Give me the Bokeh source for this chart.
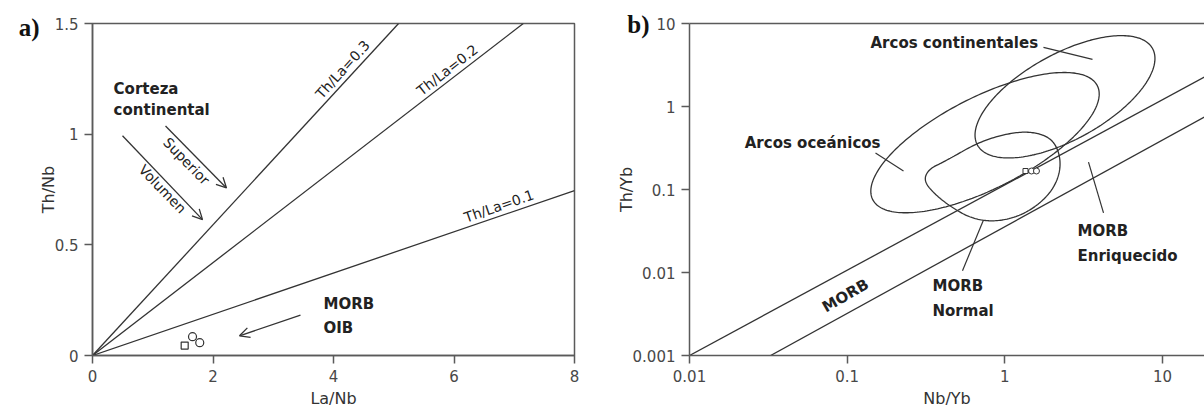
import numpy as np
from bokeh.plotting import figure
from bokeh.models import (FixedTicker, CustomJSTickFormatter, Arrow, OpenHead,
                          LogAxis, LinearAxis, Range1d)
from bokeh.layouts import row
from bokeh.embed import file_html
from bokeh.resources import INLINE
from bokeh.core.properties import value

# ---------------- Panel a data (La/Nb vs Th/Nb) ----------------
a_xticks = [0, 2, 4, 6, 8]
a_yticks = [0, 0.5, 1, 1.5]
th_la_labels = ["Th/La=0.3", "Th/La=0.2", "Th/La=0.1"]
th_la_end_lanb = [5.08, 7.15, 8.0]
th_la_end_thnb = [1.5, 1.5, 0.745]
sample_sq_lanb = [1.53]
sample_sq_thnb = [0.045]
sample_ci_lanb = [1.66, 1.78]
sample_ci_thnb = [0.085, 0.058]

# ---------------- Panel b data (Nb/Yb vs Th/Yb) ----------------
b_xticks = [0.01, 0.1, 1, 10]
b_yticks = [0.001, 0.01, 0.1, 1, 10]
morb_upper_nbyb = [0.01, 18.44]
morb_upper_thyb = [0.001, 2.27]
morb_lower_nbyb = [0.0327, 18.44]
morb_lower_thyb = [0.001, 0.75]
# field ellipses: centre (Nb/Yb, Th/Yb) and conjugate semi-axes in log10 decades
ocean_centre = [0.748, 0.367]
ocean_axis1 = [0.712, 0.687]
ocean_axis2 = [-0.132, 0.492]
cont_centre = [2.405, 1.309]
cont_axis1 = [0.555, 0.582]
cont_axis2 = [-0.132, 0.452]
# N-MORB field outline
nmorb_nbyb = [0.305, 0.328, 0.420, 0.700, 1.134, 1.563, 2.004, 2.252, 2.219, 1.890,
              1.351, 0.898, 0.623, 0.465, 0.363]
nmorb_thyb = [0.1265, 0.176, 0.220, 0.3825, 0.4905, 0.4905, 0.404, 0.2526, 0.1453,
              0.0835, 0.0508, 0.0407, 0.0442, 0.060, 0.0859]
b_sq_nbyb = [1.351]
b_sq_thyb = [0.167]
b_ci_nbyb = [1.475, 1.586]
b_ci_thyb = [0.167, 0.167]

INK = "#333333"
AXC = "#5a5a5a"
TXT = "#484848"
FONT = "DejaVu Sans"
fmt = CustomJSTickFormatter(code="return tick.toString();")


def style_axes(p, xticks, yticks):
    for ax, ticks in ((p.xaxis, xticks), (p.yaxis, yticks)):
        ax.ticker = FixedTicker(ticks=ticks, minor_ticks=[])
        ax.formatter = fmt
        ax.major_tick_out = 8
        ax.major_tick_in = 0
        ax.minor_tick_out = 0
        ax.minor_tick_in = 0
        ax.axis_line_color = AXC
        ax.axis_line_width = 1.5
        ax.major_tick_line_color = AXC
        ax.major_tick_line_width = 1.5
        ax.major_label_text_font = FONT
        ax.major_label_text_font_size = "15px"
        ax.major_label_text_color = TXT
        ax.major_label_standoff = 6
        ax.axis_label_text_font = FONT
        ax.axis_label_text_font_size = "16px"
        ax.axis_label_text_font_style = "normal"
        ax.axis_label_text_color = "#333333"
    p.xaxis.axis_label_standoff = 4
    p.yaxis.axis_label_standoff = -6
    p.grid.visible = False


def panel_tag(p, axis_cls, tick, tag, standoff):
    ax = axis_cls(ticker=FixedTicker(ticks=[tick], minor_ticks=[]),
                  formatter=CustomJSTickFormatter(code="return '%s';" % tag),
                  axis_line_color=None, major_tick_line_color=None, minor_tick_line_color=None,
                  major_tick_out=0, major_tick_in=0, minor_tick_out=0, minor_tick_in=0,
                  major_label_standoff=standoff, major_label_text_font="Liberation Serif",
                  major_label_text_font_style="bold", major_label_text_font_size="25px",
                  major_label_text_color="#111111")
    p.add_layout(ax, "left")


def txt(p, x, y, s, size="14px", bold=False, angle=0.0, align="left", baseline="middle"):
    p.text(x=[x], y=[y], text=[s], text_font=value(FONT), text_font_size=value(size),
           text_font_style="bold" if bold else "normal", text_color="#222222",
           angle=np.deg2rad(angle), text_align=align, text_baseline=baseline)


# ======================= Panel a =======================
pa = figure(width=600, height=410, x_range=Range1d(0, 8), y_range=Range1d(0, 1.5),
            output_backend="svg", toolbar_location=None,
            min_border_left=92, min_border_right=26, min_border_top=19, min_border_bottom=54,
            x_axis_label="La/Nb", y_axis_label="Th/Nb")
pa.outline_line_color = AXC
pa.outline_line_width = 1.5
style_axes(pa, a_xticks, a_yticks)
panel_tag(pa, LinearAxis, 1.483, "a)", -4)

for ex, ey in zip(th_la_end_lanb, th_la_end_thnb):
    pa.line([0, ex], [0, ey], line_color=INK, line_width=1.3)

txt(pa, 4.25, 1.268, th_la_labels[0], angle=47.7, align="center", baseline="bottom")
txt(pa, 5.97, 1.262, th_la_labels[1], angle=38.0, align="center", baseline="bottom")
txt(pa, 6.79, 0.641, th_la_labels[2], angle=19.1, align="center", baseline="bottom")

txt(pa, 0.35, 1.206, "Corteza", size="15px", bold=True)
txt(pa, 0.35, 1.108, "continental", size="15px", bold=True)
txt(pa, 1.56, 0.878, "Superior", angle=-46, align="center")
txt(pa, 1.162, 0.752, "Volumen", angle=-46, align="center")
txt(pa, 3.834, 0.232, "MORB", size="15px", bold=True)
txt(pa, 3.834, 0.126, "OIB", size="15px", bold=True)

for xs, ys, xe, ye in ((1.212, 1.037, 2.224, 0.757), (0.498, 0.993, 1.826, 0.614),
                       (3.452, 0.1825, 2.44, 0.089)):
    pa.add_layout(Arrow(end=OpenHead(size=10, line_color=INK, line_width=1.3),
                        x_start=xs, y_start=ys, x_end=xe, y_end=ye,
                        line_color=INK, line_width=1.3))

pa.scatter(sample_sq_lanb, sample_sq_thnb, marker="square", size=7, line_color=INK,
           fill_color="white", line_width=1.2)
pa.scatter(sample_ci_lanb, sample_ci_thnb, marker="circle", size=8, line_color=INK,
           fill_color="white", line_width=1.2)

# ======================= Panel b =======================
pb = figure(width=604, height=410, x_axis_type="log", y_axis_type="log",
            x_range=Range1d(0.01, 18.44), y_range=Range1d(0.001, 10),
            output_backend="svg", toolbar_location=None,
            min_border_left=89, min_border_right=0, min_border_top=23, min_border_bottom=54,
            x_axis_label="Nb/Yb", y_axis_label="Th/Yb")
pb.outline_line_color = None
style_axes(pb, b_xticks, b_yticks)
top_ax = LogAxis(ticker=FixedTicker(ticks=[], minor_ticks=[]), axis_line_color=AXC,
                 axis_line_width=1.5, major_tick_out=0, major_tick_in=0,
                 minor_tick_out=0, minor_tick_in=0, major_label_text_font_size="0px")
pb.add_layout(top_ax, "above")
panel_tag(pb, LogAxis, 9.7, "b)", -36)

pb.line(morb_upper_nbyb, morb_upper_thyb, line_color=INK, line_width=1.3)
pb.line(morb_lower_nbyb, morb_lower_thyb, line_color=INK, line_width=1.3)

t = np.linspace(0, 2 * np.pi, 240)
for c, a1, a2 in ((ocean_centre, ocean_axis1, ocean_axis2), (cont_centre, cont_axis1, cont_axis2)):
    lx = np.log10(c[0]) + np.cos(t) * a1[0] + np.sin(t) * a2[0]
    ly = np.log10(c[1]) + np.cos(t) * a1[1] + np.sin(t) * a2[1]
    pb.line(10 ** lx, 10 ** ly, line_color=INK, line_width=1.3)


def chaikin(xs, ys, n=4):
    pts = np.column_stack([np.log10(xs), np.log10(ys)])
    for _ in range(n):
        nxt = np.roll(pts, -1, axis=0)
        q = 0.75 * pts + 0.25 * nxt
        r = 0.25 * pts + 0.75 * nxt
        new = np.empty((2 * len(pts), 2))
        new[0::2] = q
        new[1::2] = r
        pts = new
    pts = np.vstack([pts, pts[:1]])
    return 10 ** pts[:, 0], 10 ** pts[:, 1]


sx, sy = chaikin(nmorb_nbyb, nmorb_thyb)
pb.line(sx, sy, line_color=INK, line_width=1.3)

# leader lines
for (x0, y0, x1, y1) in ((1.757, 5.149, 3.594, 3.694), (0.1512, 0.2745, 0.2275, 0.1668),
                         (0.5384, 0.0105, 0.7315, 0.0430), (3.389, 0.2140, 4.220, 0.0522)):
    pb.line([x0, x1], [y0, y1], line_color=INK, line_width=1.2)

txt(pb, 0.1405, 5.75, "Arcos continentales", size="15px", bold=True)
txt(pb, 0.1627, 0.367, "Arcos oceánicos", size="15px", bold=True, align="right")
txt(pb, 0.3475, 0.00693, "MORB", size="15px", bold=True)
txt(pb, 0.3475, 0.00347, "Normal", size="15px", bold=True)
txt(pb, 2.887, 0.03174, "MORB", size="15px", bold=True)
txt(pb, 2.887, 0.01589, "Enriquecido", size="15px", bold=True)
txt(pb, 0.0975, 0.00526, "MORB", size="15px", bold=True, angle=30, align="center")

pb.scatter(b_sq_nbyb, b_sq_thyb, marker="square", size=5, line_color=INK,
           fill_color="white", line_width=1.0)
pb.scatter(b_ci_nbyb, b_ci_thyb, marker="circle", size=6, line_color=INK,
           fill_color="white", line_width=1.0)

layout = row(pa, pb)
open("out.html", "w").write(file_html(layout, INLINE))
